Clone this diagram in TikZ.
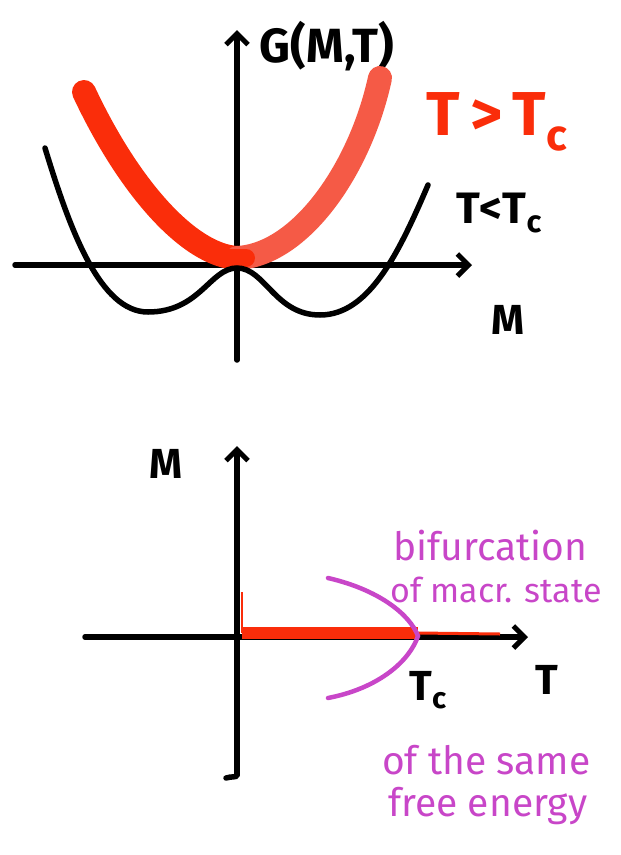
\documentclass[tikz,border=0pt]{standalone}
\usepackage{fontspec}
\setmainfont{Fira Sans}
\usetikzlibrary{arrows.meta}
\definecolor{myred}{RGB}{250,45,10}
\definecolor{mylred}{RGB}{245,90,70}
\definecolor{mymag}{RGB}{200,70,200}
\tikzset{
  axisline/.style={line width=5.5pt,black,line cap=round,-{Straight Barb[length=11pt,width=22pt,line width=5pt]}},
  blackcurve/.style={line width=5.5pt,black,line cap=round},
  redcurve/.style={line width=24pt,myred,line cap=round},
  magcurve/.style={line width=4.5pt,mymag,line cap=round},
  lbl/.style={font=\fontsize{48}{48}\selectfont\bfseries,black,inner sep=0pt},
  redlbl/.style={font=\fontsize{62}{62}\selectfont\bfseries,myred,inner sep=0pt},
  maglbl/.style={font=\fontsize{39}{39}\selectfont,mymag,inner sep=0pt,anchor=west}
}
\begin{document}
\begin{tikzpicture}[x=1pt,y=-1pt]
\useasboundingbox (0,0) rectangle (621,855);
% ---- top plot ----
\coordinate (gy0) at (237,360);
\coordinate (gy1) at (237,30);
\coordinate (gx0) at (15,265);
\coordinate (gx1) at (472,265);
\draw[axisline] (gy0) -- (gy1);
\draw[axisline] (gx0) -- (gx1);
\node[lbl] (G) at (327,46) {G(M,T)};
\node[lbl,font=\fontsize{42}{42}\selectfont\bfseries] (Mtop) at (508,320) {M};
% red curve T>Tc
\draw[redcurve] (84,92) .. controls (130,190) and (190,255) .. (237,258);
\draw[redcurve,mylred] (237,258) .. controls (300,255) and (360,170) .. (380,78);
\draw[line width=18pt,myred,line cap=round] (226,258) -- (246,258);
\node[redlbl] (Tgt) at (497,122) {T\,>\,T\textsubscript{c}};
% black double well T<Tc
\draw[blackcurve] (45,148) .. controls (70,230) and (100,312) .. (148,312)
  .. controls (200,312) and (210,268) .. (237,268)
  .. controls (265,268) and (275,315) .. (320,315)
  .. controls (370,315) and (400,250) .. (428,185);
\node[lbl,font=\fontsize{44}{44}\selectfont\bfseries] (Tlt) at (499,213) {T<T\textsubscript{c}};
% ---- bottom plot ----
\coordinate (by0) at (237,775);
\coordinate (by1) at (237,446);
\coordinate (bx0) at (85,637);
\coordinate (bx1) at (528,637);
\draw[axisline] (by0) -- (by1);
\draw[blackcurve] (by0) .. controls (236,778) and (232,776) .. (226,778);
\draw[axisline] (bx0) -- (bx1);
\node[lbl,font=\fontsize{42}{42}\selectfont\bfseries] (Mb) at (166,464) {M};
\node[lbl,font=\fontsize{42}{42}\selectfont\bfseries] (Tb) at (547,680) {T};
\node[lbl,font=\fontsize{42}{42}\selectfont\bfseries] (Tc) at (428,690) {T\textsubscript{c}};
% red M=0 segment
\coordinate (r0) at (242,633);
\coordinate (r1) at (418,633);
\draw[line width=12pt,myred] (r0) -- (r1);
\draw[line width=2.5pt,myred] (242,592) -- (r0);
\draw[line width=3pt,myred] (r1) -- (500,634);
% magenta bifurcation
\coordinate (bif) at (418,636);
\draw[magcurve] (328,578) .. controls (380,590) and (410,615) .. (bif)
  .. controls (410,660) and (380,688) .. (328,698);
\node[maglbl] (t1) at (393,546) {bifurcation};
\node[maglbl,font=\fontsize{34}{34}\selectfont] (t2) at (390,590) {of macr. state};
\node[maglbl] (t3) at (382,760) {of the same};
\node[maglbl] (t4) at (388,806) {free energy};
\end{tikzpicture}
\end{document}
